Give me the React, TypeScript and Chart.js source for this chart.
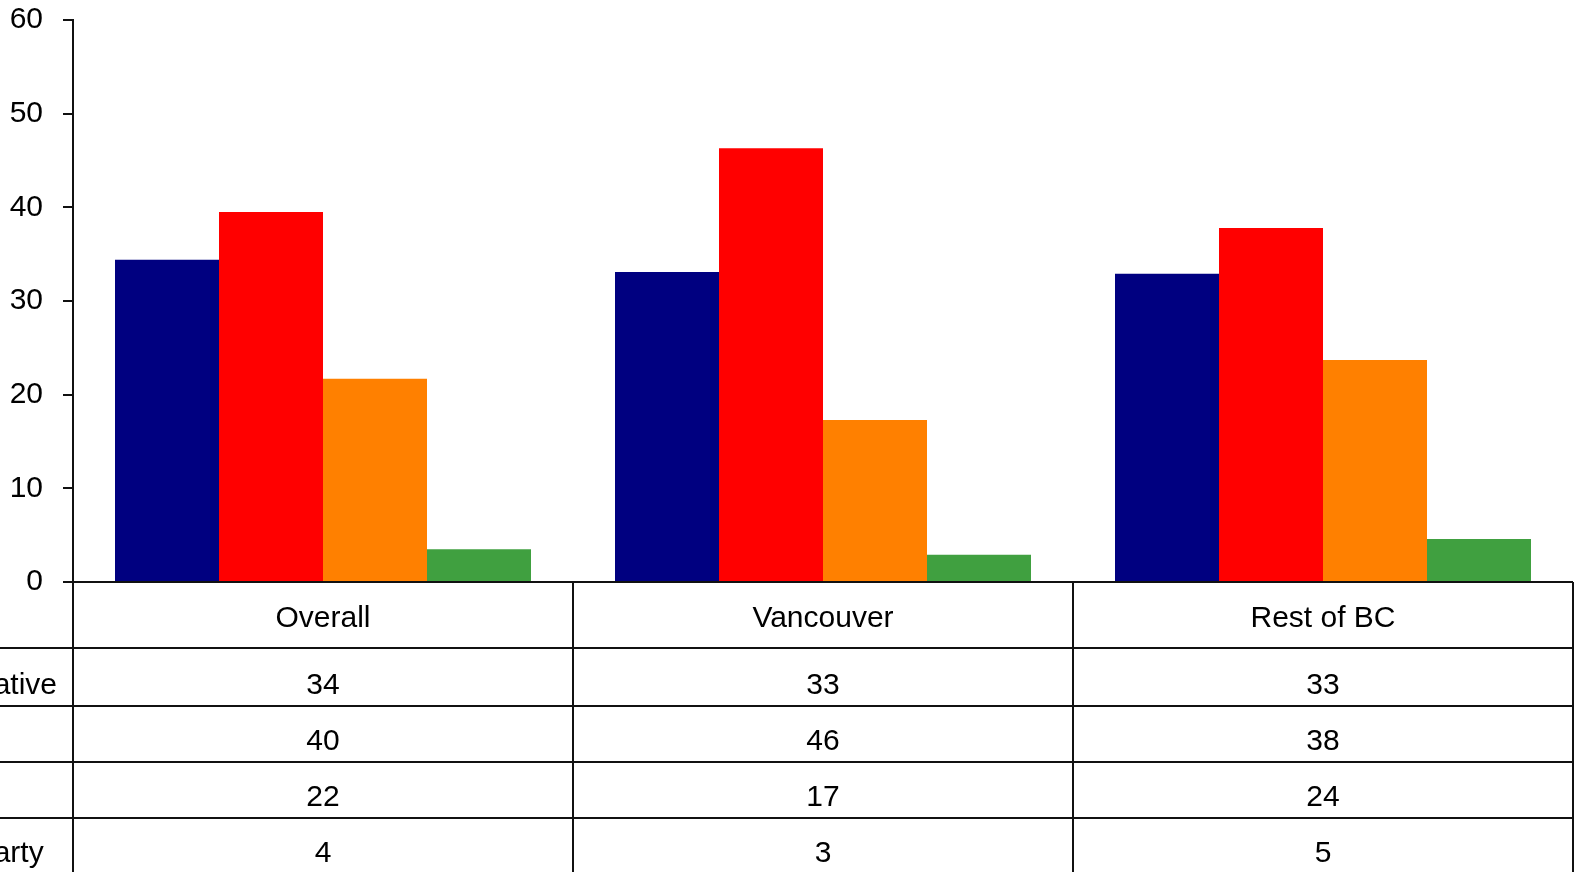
import React, { useEffect, useRef } from "react";
import { Chart, registerables } from "chart.js";

Chart.register(...registerables);

const categories = ["Overall", "Vancouver", "Rest of BC"];
const seriesNames = ["Conservative", "Liberal", "NDP", "Green Party"];
const seriesColors = ["#000080", "#FF0000", "#FF8000", "#40A040"];
// bar heights (as drawn)
const conservative = [34.4, 33.1, 32.9];
const liberal = [39.5, 46.3, 37.8];
const ndp = [21.7, 17.3, 23.7];
const green = [3.5, 2.9, 4.6];
// values printed in the data table
const tableConservative = ["34", "33", "33"];
const tableLiberal = ["40", "46", "38"];
const tableNdp = ["22", "17", "24"];
const tableGreen = ["4", "3", "5"];
const yTicks = [0, 10, 20, 30, 40, 50, 60];

const FONT = "'Liberation Sans', Arial, sans-serif";

export default function App() {
  const ref = useRef<HTMLCanvasElement | null>(null);

  useEffect(() => {
    document.body.style.margin = "0";
    const canvas = ref.current!;
    const tableRows = [tableConservative, tableLiberal, tableNdp, tableGreen];
    const headerH = 66;
    const rowHeights = [58, 56, 56, 56];

    const tablePlugin = {
      id: "dataTable",
      afterDraw(chart: any) {
        const ctx = chart.ctx as CanvasRenderingContext2D;
        const area = chart.chartArea;
        const xs = chart.scales.x;
        const left = area.left;
        const right = area.right;
        const bottom = area.bottom;
        const H = chart.height;
        const colW = (right - left) / categories.length;
        ctx.save();
        ctx.strokeStyle = "#111";
        ctx.lineWidth = 2;
        // baseline
        ctx.beginPath();
        ctx.moveTo(left - 10, bottom);
        ctx.lineTo(right, bottom);
        ctx.stroke();
        // vertical lines
        ctx.beginPath();
        ctx.moveTo(left, bottom);
        ctx.lineTo(left, H);
        for (let i = 0; i < categories.length; i++) {
          const cx = xs.getPixelForValue(i) + colW / 2;
          ctx.moveTo(cx, bottom);
          ctx.lineTo(cx, H);
        }
        ctx.stroke();
        // horizontal lines
        let y = bottom + headerH;
        const rowTops: number[] = [];
        ctx.beginPath();
        for (let r = 0; r < rowHeights.length; r++) {
          rowTops.push(y);
          ctx.moveTo(0, y);
          ctx.lineTo(right, y);
          y += rowHeights[r];
        }
        ctx.stroke();

        ctx.fillStyle = "#000";
        ctx.font = `30px ${FONT}`;
        ctx.textBaseline = "alphabetic";
        ctx.textAlign = "center";
        categories.forEach((c, i) => {
          ctx.fillText(c, xs.getPixelForValue(i), bottom + headerH - 21);
        });
        const nameStart = 57 - ctx.measureText(seriesNames[0]).width;
        tableRows.forEach((row, r) => {
          const base = rowTops[r] + rowHeights[r] - 12;
          ctx.textAlign = "center";
          row.forEach((v, i) => {
            ctx.fillText(v, xs.getPixelForValue(i), base);
          });
          ctx.textAlign = "left";
          ctx.fillText(seriesNames[r], nameStart, base);
        });
        ctx.restore();
      },
    };

    const chart = new Chart(canvas, {
      type: "bar",
      data: {
        labels: categories,
        datasets: [conservative, liberal, ndp, green].map((d, i) => ({
          label: seriesNames[i],
          data: d,
          backgroundColor: seriesColors[i],
          borderWidth: 0,
          barPercentage: 1,
          categoryPercentage: 0.832,
        })),
      },
      options: {
        animation: false,
        responsive: false,
        devicePixelRatio: 1,
        layout: { padding: { top: 20, right: 2, bottom: 290, left: 0 } },
        plugins: {
          legend: { display: false },
          tooltip: { enabled: false },
        },
        scales: {
          x: { display: false },
          y: {
            min: 0,
            max: 60,
            afterFit(scale: any) {
              scale.width = 73;
              scale.paddingTop = 0;
              scale.paddingBottom = 0;
            },
            afterBuildTicks(scale: any) {
              scale.ticks = yTicks.map((v) => ({ value: v }));
            },
            grid: {
              drawOnChartArea: false,
              drawTicks: true,
              tickLength: 10,
              color: "#111",
              lineWidth: 2,
            },
            border: { display: true, color: "#111", width: 2 },
            ticks: {
              padding: 20,
              color: "#000",
              font: { family: FONT, size: 30 },
            },
          },
        },
      },
      plugins: [tablePlugin],
    });
    return () => chart.destroy();
  }, []);

  return (
    <div style={{ position: "absolute", left: 0, top: 0, width: 1575, height: 872 }}>
      <canvas ref={ref} width={1575} height={872} style={{ width: 1575, height: 872, display: "block" }} />
    </div>
  );
}
